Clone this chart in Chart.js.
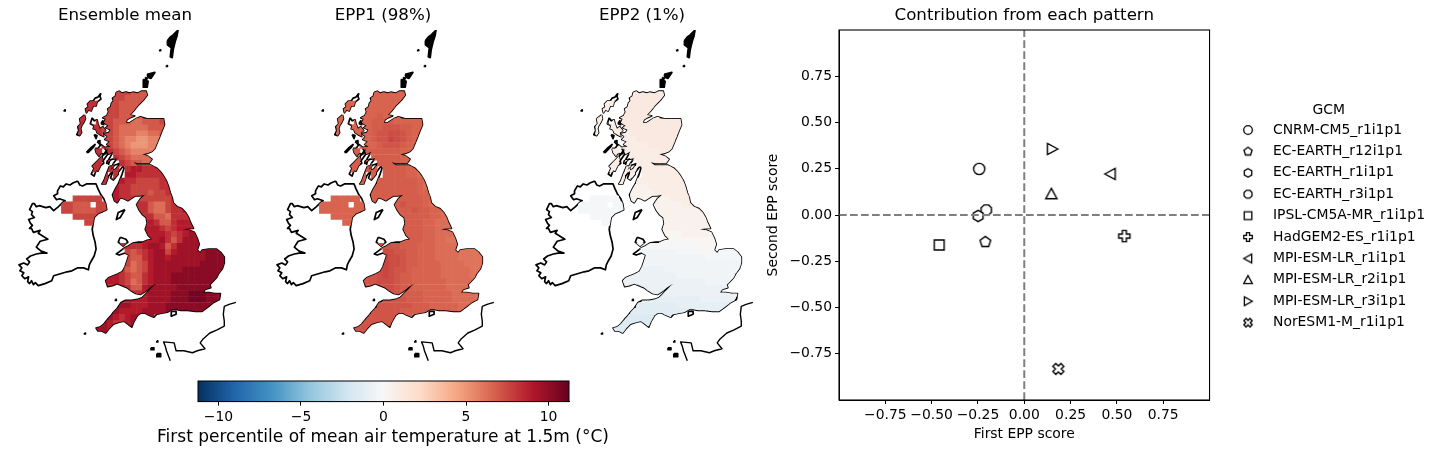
<!DOCTYPE html>
<html>
<head>
<meta charset="utf-8">
<title>EPP maps</title>
<script src="https://cdn.jsdelivr.net/npm/chart.js@4"></script>
<style>
body { margin: 0; background: #fff; }
canvas { position: absolute; }
</style>
</head>
<body>
<canvas id="map0" width="250" height="375" style="left:0;top:0"></canvas>
<canvas id="map1" width="250" height="375" style="left:258px;top:0"></canvas>
<canvas id="map2" width="250" height="375" style="left:517px;top:0"></canvas>
<canvas id="colorbar" width="470" height="84" style="left:148px;top:370px"></canvas>
<canvas id="scores" width="1140" height="454" style="left:300px;top:0"></canvas>
<script>
// ---- data ----
const panelTitles = ['Ensemble mean', 'EPP1 (98%)', 'EPP2 (1%)'];

// one char per grid cell, '.' = no data
const ensembleRows = [
'.........444333',
'.........4433333',
'....555.4433333',
'....555.443333',
'...55..4443333',
'...55.5443332233344',
'...5555443222223333',
'...55.544322211223334',
'....5.544321100112333',
'.......54321000112334',
'.....55.5432111122344',
'.....555.54322222334',
'.....55.5.543322234',
'.....55.55.56655555',
'.......5.5.66555555',
'.......55.65544445556',
'.........655444445556',
'.........6554443445556',
'..44444..6555444444556',
'44333.44.655555322456',
'44333344.....553224556',
'..444444......5533255566',
'....44........565335666',
'..............6665456667',
'..............6666545677',
'..............6667535777',
'..........55556776357777',
'...........43456774677777888',
'...........433567767777778888',
'...........423467777777788888',
'..........5323467777788888888',
'........66543356777888888888',
'.......66654235677788888888',
'........66653367777788888888',
'...........655677778889998888',
'...........66667777888999888',
'..........77666777888888888',
'.........7666677778888888',
'........76567777',
'.......7655677',
'......776677',
'......777'];

const epp1Rows = [
'.........444444',
'.........4444444',
'....444.4444444',
'....444.444444',
'...44..4445444',
'...44.4445555444444',
'...4444445566655444',
'...44.444566776544444',
'....4.444566876544444',
'.......44456665443344',
'.....55.5555554443344',
'.....555.55555444333',
'.....55.5.555544433',
'.....55.55.55554433',
'.......5.5.55554433',
'.......55.55555554333',
'.........555555554333',
'.........5555555544333',
'..44444..5555555554433',
'44444.44.555556555433',
'44444444.....555655443',
'..444444......5555544333',
'....44........555544333',
'..............5555443333',
'..............5555443333',
'..............5555443322',
'..........66665554443333',
'...........77665544433332222',
'...........877655444333322222',
'...........877655444433332222',
'..........7876654444433333222',
'........66787655444443333322',
'.......66677765544444433333',
'........66677655444444333333',
'...........776555544444333322',
'...........66665554444433332',
'..........66666655544444333',
'.........6666655555444443',
'........66666665',
'.......6666666',
'......666666',
'......666'];

const epp2Rows = [
'.........999999',
'.........9999999',
'....888.9999999',
'....888.999999',
'...88..9999999',
'...88.8999999999999',
'...8888999999999999',
'...88.888999999999999',
'....8.888899999999999',
'.......88888999998888',
'.....88.8888889998888',
'.....888.88888888888',
'.....88.8.888888888',
'.....88.88.88888888',
'.......8.8.88888888',
'.......88.88888888888',
'.........777888888888',
'.........7777888888888',
'..55555..7777777888888',
'55555.55.777777777888',
'55555555.....777777778',
'..555555......7777777777',
'....55........777777777',
'..............7777777777',
'..............6666777777',
'..............6666666666',
'..........55555555556666',
'...........44444455555555555',
'...........444444444445555555',
'...........444444444444444444',
'..........3333344444444444444',
'........33333333344444444444',
'.......33333333333333344444',
'........22223333333333333333',
'...........222233333333333333',
'...........2222222222333333',
'..........11111112222222222',
'.........1111111111122222',
'........00000111',
'.......0000001',
'......000000',
'......000'];

// what one digit means in deg C for each panel: [value of '0', step]
const digitScale = [[5, 0.65], [5.6, 0.25], [-1.6, 0.3]];
const panelRows = [ensembleRows, epp1Rows, epp2Rows];

// coastlines in map units
const greatBritain = [[116,93],[119,92],[122,94],[126,93],[130,94],[133,93],[138,94],[142,92],[147,92],[148,96],[145,100],[142,103],[138,107],[134,112],[130,116],[135,117],[130,119],[127,121],[126,124],[130,124],[136,120],[141,118],[148,120],[156,120],[165,120],[166,126],[163,133],[161,138],[159,143],[156,150],[153,153],[148,155],[143,156],[149,158],[153,161],[150,165],[145,165],[139,165],[134,164],[138,167],[146,167],[152,167],[158,170],[162,174],[165,178],[168,183],[170,188],[172,195],[174,200],[175,205],[179,209],[184,211],[188,215],[191,220],[193,225],[196,231],[191,231],[185,232],[192,233],[197,235],[200,241],[202,247],[200,253],[203,256],[205,253],[212,252],[220,252],[224,255],[228,260],[228,266],[226,272],[222,277],[220,281],[217,284],[213,288],[214,291],[208,293],[206,296],[212,296],[218,297],[224,297],[223,303],[217,306],[212,310],[205,315],[198,315],[190,314],[183,314],[178,313],[174,313],[169,316],[163,317],[158,318],[155,321],[150,319],[146,317],[141,317],[138,319],[134,326],[132,331],[128,328],[124,325],[119,326],[113,328],[109,332],[105,337],[101,335],[97,335],[95,332],[99,331],[103,328],[107,323],[110,320],[113,316],[117,312],[121,306],[125,304],[132,304],[138,303],[143,301],[147,297],[152,292],[157,287],[151,291],[146,295],[141,298],[136,297],[131,294],[127,291],[122,289],[117,287],[112,289],[107,290],[105,284],[108,281],[113,279],[118,277],[122,275],[125,270],[127,264],[129,258],[125,256],[119,258],[116,257],[120,254],[124,251],[128,249],[133,246],[139,245],[143,245],[148,243],[153,242],[149,238],[146,232],[148,226],[147,220],[143,217],[140,213],[137,207],[141,201],[146,197],[140,198],[136,198],[131,201],[128,203],[124,201],[120,200],[117,205],[114,203],[112,197],[115,191],[118,186],[120,181],[122,176],[124,170],[123,168],[118,174],[116,170],[120,165],[114,167],[110,172],[113,165],[117,160],[111,161],[106,165],[110,158],[113,153],[108,156],[104,150],[110,148],[106,146],[109,143],[104,141],[107,138],[103,135],[108,134],[110,131],[105,129],[108,127],[103,124],[105,120],[102,119],[106,117],[108,113],[107,110],[110,108],[111,104],[113,102],[112,99],[115,97]];
const ireland = [[76,183],[78,187],[81,188],[85,186],[90,186],[95,186],[97,191],[100,197],[103,201],[105,206],[106,212],[102,214],[97,216],[93,220],[92,226],[91,232],[92,238],[94,245],[95,252],[93,259],[90,264],[88,268],[87,273],[82,271],[76,271],[70,274],[65,275],[58,277],[51,279],[49,284],[42,287],[35,289],[32,286],[30,288],[28,284],[26,287],[24,285],[25,280],[21,282],[18,279],[20,276],[16,274],[18,271],[15,268],[20,266],[24,268],[26,265],[23,262],[27,259],[33,257],[38,256],[44,256],[38,254],[33,250],[37,244],[45,242],[40,239],[35,236],[37,233],[30,235],[28,231],[26,231],[29,228],[27,226],[25,222],[31,220],[28,217],[29,214],[26,212],[27,210],[29,206],[31,206],[33,209],[36,208],[43,210],[47,209],[51,213],[56,209],[60,205],[63,203],[57,201],[54,202],[51,198],[55,196],[55,193],[58,188],[61,189],[64,186],[68,187],[71,185]];
const anglesey = [[120,240],[126,242],[128,245],[123,249],[118,245]];
const skye = [[91,119],[93,122],[96,121],[97,125],[99,130],[102,128],[105,132],[102,134],[103,138],[99,136],[96,134],[95,131],[92,130],[93,127],[89,125]];
const lewis = [[100,94],[99,97],[100,100],[96,103],[95,107],[92,107],[90,112],[87,111],[85,114],[84,110],[87,108],[86,105],[89,102],[92,102],[94,99],[97,98]];
const uist = [[83,116],[84,120],[82,124],[80,127],[79,130],[80,134],[78,137],[75,136],[77,132],[76,128],[79,125],[78,120]];
const mull = [[94,150],[97,150],[100,146],[104,149],[108,148],[106,153],[104,156],[100,155],[98,158],[95,154]];
const islay = [[96,163],[101,158],[103,165],[100,167],[97,173],[95,172],[93,178],[90,176],[93,170],[91,168]];
const kintyre = [[109,168],[106,175],[103,183],[101,186],[105,186],[108,178],[113,172],[111,168]];
const arran = [[113,172],[117,170],[118,176],[113,182],[110,180]];
const isleOfMan = [[125,212],[120,220],[116,222],[118,215]];
const wight = [[173,315],[178,315],[178,318],[173,320]];
const tiree = [[85,154],[90,149],[94,146],[92,149],[87,154]];
const rum = [[93,136],[96,137],[95,140]];
const jura = [[100,160],[105,153],[107,156],[102,163]];
const eigg = [[96,143],[99,142],[99,146]];
const raasay = [[100,125],[102,122],[103,126]];
const bute = [[106,163],[109,162],[108,166]];
const landLoops = [greatBritain, ireland, anglesey, skye, lewis, uist, mull, islay, kintyre, arran];
const outlineLoops = landLoops.concat([isleOfMan, wight, tiree, rum, jura, eigg, raasay, bute]);

const france = [[240,306],[233,308],[228,310],[227,318],[228,325],[228,330],[220,334],[213,337],[206,343],[203,347],[208,353],[200,355],[195,357],[186,355],[178,355],[176,347],[165,346],[167,351],[168,355],[172,365]];

// small solid bits: Orkney, Shetland and the rocks
const solidLoops = [
[[148,75],[152,74],[156,73],[152,79],[149,78]],
[[144,80],[149,82],[148,88],[144,88]],
[[146,78],[148,79],[147,81]],
[[169,41],[172,37],[175,35],[180,30],[179,36],[177,42],[175,50],[174,58],[172,57],[173,48],[169,45]],
[[161,50],[162,50],[162,51],[161,51]],
[[168,66],[169,66],[169,67],[168,67]],
[[62,111],[63,111],[63,112],[62,112]],
[[83,337],[84,337],[84,338],[83,338]],
[[115,303],[116,303],[116,304],[115,304]],
[[152,352],[155,352],[155,354],[152,354]],
[[158,358],[162,358],[162,361],[158,361]],
[[158,345],[159,345],[159,346],[158,346]]
];

// score panel
const gcmNames = ['CNRM-CM5_r1i1p1','EC-EARTH_r12i1p1','EC-EARTH_r1i1p1','EC-EARTH_r3i1p1','IPSL-CM5A-MR_r1i1p1','HadGEM2-ES_r1i1p1','MPI-ESM-LR_r1i1p1','MPI-ESM-LR_r2i1p1','MPI-ESM-LR_r3i1p1','NorESM1-M_r1i1p1'];
const firstScore = [-0.243,-0.21,-0.249,-0.205,-0.459,0.54,0.465,0.146,0.151,0.184];
const secondScore = [0.249,-0.146,-0.005,0.027,-0.162,-0.114,0.222,0.114,0.357,-0.832];
const gcmMarkers = ['circle','pentagon','hexagon','octagon','square','plus','left','up','right','cross'];

// RdBu_r stops
const rdbu = ['#053061','#2166ac','#4393c3','#92c5de','#d1e5f0','#f7f7f7','#fddbc7','#f4a582','#d6604d','#b2182b','#67001f'];
const colorLimit = 11.24;

// ---- helpers ----
Chart.defaults.font.family = '"DejaVu Sans", sans-serif';
Chart.defaults.color = '#000';
Chart.defaults.animation = false;

function hexRgb(h) {
    return [1, 3, 5].map(function(i){ return parseInt(h.substr(i, 2), 16); });
}
function tempColor(v) {
    var t = (v + colorLimit) / (2 * colorLimit) * 10;
    t = Math.max(0, Math.min(9.999, t));
    var i = Math.floor(t), a = hexRgb(rdbu[i]), b = hexRgb(rdbu[i + 1]), f = t - i;
    return 'rgb(' + a.map(function(c, k){ return Math.round(c + (b[k] - c) * f); }).join(',') + ')';
}
function loopData(loop, closed) {
    var d = loop.map(function(p){ return {x: p[0], y: p[1]}; });
    if (closed) d.push({x: loop[0][0], y: loop[0][1]});
    return d;
}
function cellData(panel) {
    var out = [];
    panelRows[panel].forEach(function(row, r){
        for (var c = 0; c < row.length; c++) {
            if (row[c] === '.') continue;
            out.push({x: 62 + 6 * c, y: 93 + 6 * r, v: digitScale[panel][0] + digitScale[panel][1] * Number(row[c])});
        }
    });
    return out;
}

// only paint the grid cells on land
const clipToLand = {
    id: 'clipToLand',
    beforeDatasetDraw: function(chart, args) {
        if (args.index !== 0) return;
        var c = chart.ctx, sx = chart.scales.x, sy = chart.scales.y;
        c.save();
        c.beginPath();
        landLoops.forEach(function(loop){
            loop.forEach(function(p, i){
                var px = sx.getPixelForValue(p[0]), py = sy.getPixelForValue(p[1]);
                if (i === 0) c.moveTo(px, py); else c.lineTo(px, py);
            });
            c.closePath();
        });
        c.clip();
    },
    afterDatasetDraw: function(chart, args) {
        if (args.index === 0) chart.ctx.restore();
    }
};

function makeMap(id, panel) {
    var datasets = [{
        data: cellData(panel),
        pointStyle: 'rect',
        pointRadius: 4.5,
        pointBorderWidth: 0,
        pointBackgroundColor: function(ctx){ return tempColor(ctx.raw.v); }
    }];
    outlineLoops.forEach(function(loop){
        datasets.push({data: loopData(loop, true), showLine: true, borderColor: '#000', borderWidth: 1.7, borderJoinStyle: 'round', pointRadius: 0});
    });
    datasets.push({data: loopData(france, false), showLine: true, borderColor: '#000', borderWidth: 1.4, borderJoinStyle: 'round', pointRadius: 0});
    solidLoops.forEach(function(loop){
        datasets.push({data: loopData(loop, true), showLine: true, fill: 'shape', backgroundColor: '#000', borderColor: '#000', borderWidth: 1.7, borderJoinStyle: 'round', pointRadius: 0});
    });
    new Chart(document.getElementById(id), {
        type: 'scatter',
        data: {datasets: datasets},
        options: {
            responsive: false,
            events: [],
            layout: {padding: 0},
            scales: {
                x: {display: false, min: 0, max: 250},
                y: {display: false, min: 30, max: 375, reverse: true}
            },
            plugins: {
                legend: {display: false},
                tooltip: {enabled: false},
                title: {display: true, text: panelTitles[panel], color: '#000', font: {size: 16.67, weight: 'normal'}, padding: {top: 6, bottom: 4}}
            }
        },
        plugins: [clipToLand]
    });
}
makeMap('map0', 0);
makeMap('map1', 1);
makeMap('map2', 2);

// colour bar
new Chart(document.getElementById('colorbar'), {
    type: 'scatter',
    data: {datasets: [{data: []}]},
    options: {
        responsive: false,
        events: [],
        layout: {padding: {left: 50, right: 49, top: 11, bottom: 0}},
        scales: {
            x: {
                min: -colorLimit, max: colorLimit,
                afterFit: function(s){ s.height = 26; },
                ticks: {stepSize: 5, includeBounds: false, autoSkip: false, maxRotation: 0, padding: 3, font: {size: 13.9}, color: '#000', callback: function(v){ return String(v).replace('-', '\u2212'); }},
                grid: {drawOnChartArea: false, tickLength: 4, color: '#000', tickColor: '#000'},
                border: {color: '#000'}
            },
            y: {display: false, min: 0, max: 1}
        },
        plugins: {
            legend: {display: false},
            tooltip: {enabled: false},
            title: {display: true, position: 'bottom', text: 'First percentile of mean air temperature at 1.5m (\u00b0C)', color: '#000', font: {size: 17, weight: 'normal'}, padding: {top: 0, bottom: 6}}
        }
    },
    plugins: [{
        id: 'barFill',
        afterLayout: function(chart) {
            // the label is wider than the bar, let it use the whole canvas
            chart.titleBlock.left = 0;
            chart.titleBlock.right = chart.width;
        },
        beforeDatasetsDraw: function(chart) {
            var c = chart.ctx, a = chart.chartArea;
            var g = c.createLinearGradient(a.left, 0, a.right, 0);
            rdbu.forEach(function(col, i){ g.addColorStop(i / 10, col); });
            c.fillStyle = g;
            c.fillRect(a.left, a.top, a.width, a.height);
            c.strokeStyle = '#000';
            c.lineWidth = 1;
            c.strokeRect(a.left, a.top, a.width, a.height);
        }
    }]
});

// marker pictures, filled white with a black edge
function polyPoints(kind) {
    var pts = [], i, a = 0.36;
    var regular = {pentagon: 5, hexagon: 6, octagon: 8};
    if (regular[kind]) {
        var start = kind === 'octagon' ? Math.PI / 8 : 0;
        for (i = 0; i < regular[kind]; i++) {
            var ang = start + i * 2 * Math.PI / regular[kind];
            pts.push([Math.sin(ang), -Math.cos(ang)]);
        }
    }
    if (kind === 'square') pts = [[-0.88,-0.88],[0.88,-0.88],[0.88,0.88],[-0.88,0.88]];
    if (kind === 'up') pts = [[0,-1],[1,0.85],[-1,0.85]];
    if (kind === 'left') pts = [[-1,0],[0.85,-1],[0.85,1]];
    if (kind === 'right') pts = [[1,0],[-0.85,-1],[-0.85,1]];
    if (kind === 'plus' || kind === 'cross') {
        pts = [[-a,-1],[a,-1],[a,-a],[1,-a],[1,a],[a,a],[a,1],[-a,1],[-a,a],[-1,a],[-1,-a],[-a,-a]];
        if (kind === 'cross') pts = pts.map(function(p){ return [(p[0] - p[1]) * 0.72, (p[0] + p[1]) * 0.72]; });
    }
    return pts;
}
function markerImage(kind, r, lw) {
    var cv = document.createElement('canvas'), half = Math.ceil(r) + 2;
    cv.width = cv.height = 2 * half;
    var c = cv.getContext('2d');
    c.translate(half, half);
    c.beginPath();
    if (kind === 'circle') c.arc(0, 0, r, 0, 2 * Math.PI);
    else {
        polyPoints(kind).forEach(function(p, i){
            if (i === 0) c.moveTo(p[0] * r, p[1] * r); else c.lineTo(p[0] * r, p[1] * r);
        });
        c.closePath();
    }
    c.fillStyle = '#fff';
    c.fill();
    c.lineWidth = lw;
    c.strokeStyle = '#000';
    c.stroke();
    return cv;
}

var scoreSets = [
    {label: 'zero', data: [{x: 0, y: -1}, {x: 0, y: 1}], showLine: true, borderColor: '#7f7f7f', borderWidth: 2, borderDash: [7.7, 3.3], pointRadius: 0},
    {label: 'zero', data: [{x: -1, y: 0}, {x: 1, y: 0}], showLine: true, borderColor: '#7f7f7f', borderWidth: 2, borderDash: [7.7, 3.3], pointRadius: 0}
];
gcmNames.forEach(function(name, i){
    scoreSets.push({
        label: name,
        data: [{x: firstScore[i], y: secondScore[i]}],
        pointStyle: markerImage(gcmMarkers[i], 5.6, 1.4)
    });
});

function axisOpts(title, pad) {
    return {
        min: -1, max: 1,
        afterBuildTicks: function(s){
            s.ticks = s.ticks.filter(function(t){ return Math.abs(t.value) < 1; });
        },
        ticks: {stepSize: 0.25, includeBounds: false, autoSkip: false, maxRotation: 0, padding: 3, font: {size: 13.9}, color: '#000',
            callback: function(v){ return Number(v).toFixed(2).replace('-', '\u2212'); }},
        grid: {drawOnChartArea: false, tickLength: 4, color: '#000', tickColor: '#000'},
        border: {color: '#000'},
        title: {display: true, text: title, color: '#000', font: {size: 13.9}, padding: {top: pad, bottom: 2}}
    };
}
var xOpts = axisOpts('First EPP score', 5);
xOpts.afterFit = function(s){ s.height = 45; };
// the canvas starts at x=300, so the y axis box runs up to the frame at x=839
var yOpts = axisOpts('Second EPP score', 465);
yOpts.afterFit = function(s){ s.width = 539; };

new Chart(document.getElementById('scores'), {
    type: 'scatter',
    data: {datasets: scoreSets},
    options: {
        responsive: false,
        events: [],
        layout: {padding: {top: 0, right: 18, bottom: 9, left: 0}},
        scales: {x: xOpts, y: yOpts},
        plugins: {
            tooltip: {enabled: false},
            title: {display: true, fullSize: false, text: 'Contribution from each pattern', color: '#000', font: {size: 16.67, weight: 'normal'}, padding: {top: 6, bottom: 4}},
            legend: {
                position: 'right',
                title: {display: true, text: 'GCM', color: '#000', font: {size: 13.9}, padding: {top: 0, bottom: -5}},
                labels: {
                    color: '#000',
                    font: {size: 13.9},
                    usePointStyle: true,
                    pointStyleWidth: 36,
                    padding: 7.5,
                    generateLabels: function() {
                        return gcmNames.map(function(name, i){
                            return {text: name, pointStyle: markerImage(gcmMarkers[i], 4.3, 1.3), datasetIndex: i + 2, fontColor: '#000', hidden: false, lineWidth: 0};
                        });
                    }
                }
            }
        }
    },
    plugins: [{
        id: 'frame',
        afterLayout: function(chart) {
            chart.legend.left += 13;
            chart.legend.right += 13;
            chart.legend.top -= 2;
            chart.legend.bottom -= 2;
        },
        afterDatasetsDraw: function(chart) {
            var c = chart.ctx, a = chart.chartArea;
            c.save();
            c.strokeStyle = '#000';
            c.lineWidth = 1.1;
            c.strokeRect(a.left, a.top, a.width, a.height);
            c.restore();
        }
    }]
});
</script>
</body>
</html>
